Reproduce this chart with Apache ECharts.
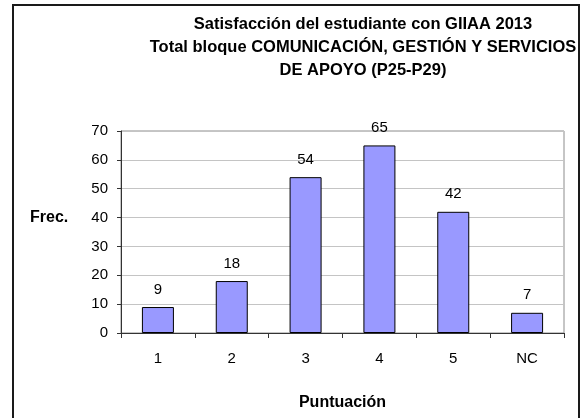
<!DOCTYPE html>
<html>
<head>
<meta charset="utf-8">
<script src="https://cdn.jsdelivr.net/npm/echarts@6/dist/echarts.min.js"></script>
<style>
  html, body { margin: 0; padding: 0; background: #fff; }
  #chart { width: 585px; height: 418px; }
</style>
</head>
<body>
<div id="chart"></div>
<script>
// Score categories and response counts
const categories = ['1', '2', '3', '4', '5', 'NC'];
const frequencies = [9, 18, 54, 65, 42, 7];
const yTicks = { min: 0, max: 70, interval: 10 };

const titleLines = [
  'Satisfacción del estudiante con GIIAA 2013',
  'Total bloque COMUNICACIÓN, GESTIÓN Y SERVICIOS',
  'DE APOYO (P25-P29)'
];
const xName = 'Puntuación';
const yName = 'Frec.';

const font = 'Liberation Sans, Arial, sans-serif';
const chart = echarts.init(document.getElementById('chart'), null, { renderer: 'canvas' });

chart.setOption({
  backgroundColor: '#ffffff',
  animation: false,
  title: {
    text: titleLines.join('\n'),
    left: 363,
    top: 13,
    padding: 0,
    textAlign: 'center',
    textStyle: {
      fontFamily: font,
      fontSize: 16.5,
      fontWeight: 'bold',
      color: '#000',
      lineHeight: 23
    }
  },
  graphic: [
    {
      type: 'rect',
      shape: { x: 13, y: 5, width: 566, height: 420 },
      style: { fill: 'none', stroke: '#1a1a1a', lineWidth: 2 },
      z: 10
    },
    {
      type: 'text',
      left: 30,
      top: 210,
      style: {
        text: yName,
        font: 'bold 16px ' + font,
        fill: '#000'
      }
    }
  ],
  grid: {
    left: 121,
    right: 21,
    top: 131,
    bottom: 85,
    show: true,
    borderColor: '#8c8c8c',
    borderWidth: 1,
    backgroundColor: 'transparent'
  },
  xAxis: {
    type: 'category',
    data: categories,
    name: xName,
    nameLocation: 'middle',
    nameGap: 62,
    nameTextStyle: { fontFamily: font, fontSize: 16, fontWeight: 'bold', color: '#000' },
    axisLine: { lineStyle: { color: '#333', width: 1 } },
    axisTick: { show: true, length: 5, alignWithLabel: false, lineStyle: { color: '#333' } },
    axisLabel: { margin: 18, fontFamily: font, fontSize: 15, color: '#000' },
    splitLine: { show: false }
  },
  yAxis: {
    type: 'value',
    min: yTicks.min,
    max: yTicks.max,
    interval: yTicks.interval,
    axisLine: { show: true, lineStyle: { color: '#333', width: 1 } },
    axisTick: { show: true, length: 4, lineStyle: { color: '#333' } },
    axisLabel: { margin: 13, fontFamily: font, fontSize: 15, color: '#000' },
    splitLine: { show: true, lineStyle: { color: '#c4c4c4', width: 1 } }
  },
  series: [
    {
      type: 'bar',
      data: frequencies,
      barWidth: 32,
      itemStyle: { color: '#9999ff', borderColor: '#000', borderWidth: 1 },
      label: {
        show: true,
        position: 'top',
        distance: 10,
        fontFamily: font,
        fontSize: 15,
        color: '#000'
      }
    }
  ]
});
</script>
</body>
</html>
